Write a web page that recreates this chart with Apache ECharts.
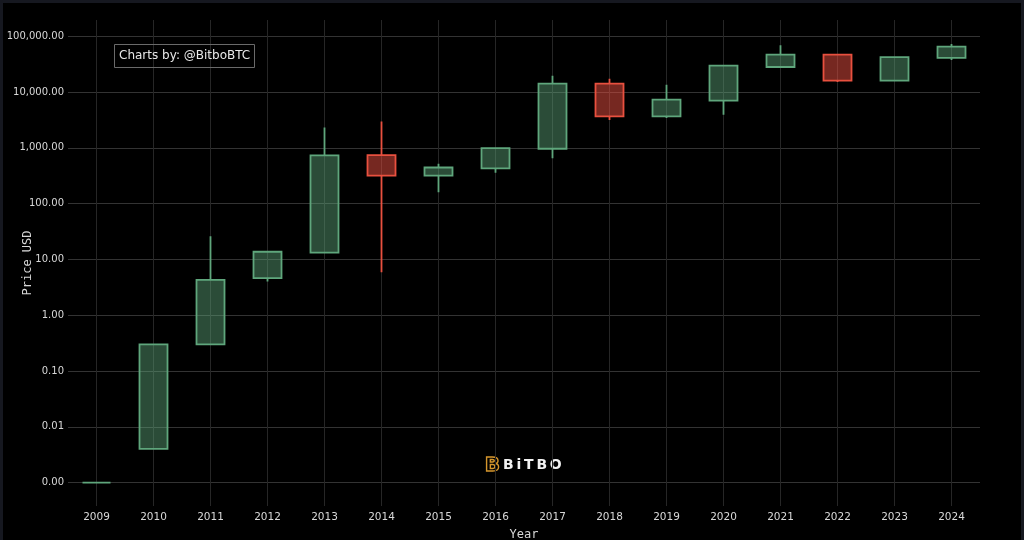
<!DOCTYPE html>
<html>
<head>
<meta charset="utf-8">
<script src="https://cdn.jsdelivr.net/npm/echarts@6/dist/echarts.min.js"></script>
<style>
    html, body {margin:0;padding:0;background:#161820;overflow:hidden;}
    #chart-btc {position:absolute;left:3px;top:3px;width:1018px;height:537px;background:#000;}
</style>
</head>
<body>
<div id="chart-btc"></div>
<script>
    // yearly candles, values
    var years  = ['2009','2010','2011','2012','2013','2014','2015','2016','2017','2018','2019','2020','2021','2022','2023','2024'];
    var opens  = [0.001, 0.004, 0.30, 4.6,  13.2, 736,  318, 426, 960,   14090, 3650,  6980,  28050, 46800, 16000, 40900];
    var closes = [0.001, 0.30,  4.3,  13.7, 730,  318,  443, 984, 14090, 3650,  7280,  29650, 46660, 16000, 42000, 65000];
    var lows   = [0.001, 0.004, 0.30, 4.0,  13.2, 5.85, 160, 357, 651,   3150,  3420,  3920,  28050, 15100, 16000, 37600];
    var highs  = [0.001, 0.30,  26,   13.7, 2310, 2970, 516, 984, 19580, 17330, 13520, 29650, 68500, 46800, 42000, 72800];

    var candles = [];
    for (var i = 0; i < years.length; i++) {
        candles.push([opens[i], closes[i], lows[i], highs[i]]);
    }

    var chart = echarts.init(document.getElementById('chart-btc'));

    var option = {
        animation: false,
        title: {
            text: 'Charts by: @BitboBTC',
            left: 111,
            top: 41,
            borderColor: '#6a6a6a',
            borderWidth: 1,
            padding: [6, 5, 6, 5],
            textStyle: {color: '#e8e8e8', fontSize: 12, fontWeight: 'normal', fontFamily: 'DejaVu Sans'}
        },
        grid: {left: 65, right: 41, top: 17, bottom: 34, outerBoundsMode: 'none', containLabel: false},
        xAxis: {
            type: 'category',
            data: years,
            boundaryGap: true,
            name: 'Year',
            nameLocation: 'middle',
            nameGap: 23,
            nameMoveOverlap: false,
            nameTextStyle: {color: '#d8d8d8', fontSize: 12, fontFamily: 'DejaVu Sans Mono'},
            axisLine: {show: false},
            axisTick: {show: false, alignWithLabel: true},
            axisLabel: {color: '#d8d8d8', fontSize: 10.5, margin: 6, fontFamily: 'DejaVu Sans'},
            splitLine: {show: true, alignWithLabel: true, lineStyle: {color: '#262626', width: 1}}
        },
        yAxis: {
            type: 'log',
            logBase: 10,
            min: 0.00038,
            max: 195000,
            name: 'Price USD',
            nameLocation: 'middle',
            nameGap: 34,
            nameMoveOverlap: false,
            nameTextStyle: {color: '#d8d8d8', fontSize: 12, fontFamily: 'DejaVu Sans Mono'},
            axisLine: {show: false},
            axisTick: {show: false},
            axisLabel: {
                color: '#d8d8d8',
                fontSize: 10,
                margin: 4,
                fontFamily: 'DejaVu Sans',
                showMinLabel: false,
                showMaxLabel: false,
                formatter: function (v) {
                    return v.toLocaleString('en-US', {minimumFractionDigits: 2, maximumFractionDigits: 2});
                }
            },
            splitLine: {show: true, showMinLine: false, showMaxLine: false, lineStyle: {color: '#333', width: 1}}
        },
        graphic: [
            {
                type: 'text',
                left: 481,
                top: 452,
                style: {text: 'B', fontSize: 20, fontWeight: 'bold', fontFamily: 'DejaVu Sans', fill: 'transparent', stroke: '#d4952c', lineWidth: 1.4}
            },
            {
                type: 'text',
                left: 500,
                top: 455,
                style: {text: 'B\u2009i\u2009T\u2009B\u2009O', fontSize: 14, fontWeight: 'bold', fontFamily: 'DejaVu Sans', fill: '#f2f2f2'}
            }
        ],
        series: [
            {
                name: 'BTC',
                type: 'candlestick',
                data: candles,
                barWidth: 28,
                itemStyle: {
                    color: 'rgba(95,168,124,0.45)',
                    color0: 'rgba(235,80,65,0.5)',
                    borderColor: '#5fa67c',
                    borderColor0: '#e8503f',
                    borderColorDoji: '#5fa67c',
                    borderWidth: 1.8
                }
            }
        ]
    };
    chart.setOption(option);
</script>
</body>
</html>
